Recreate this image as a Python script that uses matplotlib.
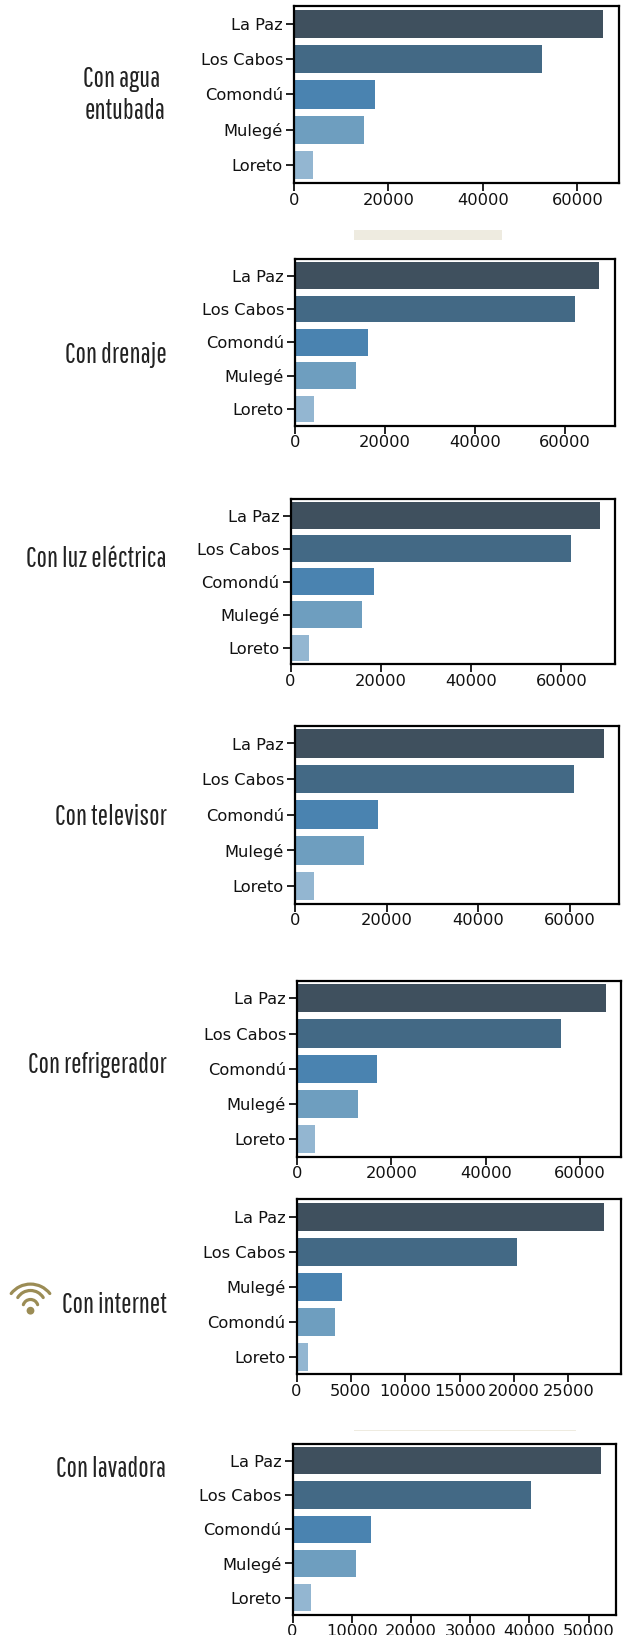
#Vivienda por municipio - barras horizontales por servicio

import matplotlib
matplotlib.use('Agg')
import matplotlib.pyplot as plt
from matplotlib.patches import Arc, Circle, Rectangle



municipios = ['La Paz', 'Los Cabos', 'Comondú', 'Mulegé', 'Loreto']
municipiosInternet = ['La Paz', 'Los Cabos', 'Mulegé', 'Comondú', 'Loreto']

conAgua = [65500, 52400, 17200, 14830, 4070]
conDrenaje = [67650, 62300, 16200, 13530, 4180]
conLuz = [68500, 62100, 18500, 15840, 4160]
conTelevisor = [67400, 60900, 18080, 15020, 4100]
conRefrigerador = [65400, 55900, 16950, 12880, 3810]
conInternet = [28270, 20300, 4190, 3570, 1070]
conLavadora = [52000, 40200, 13300, 10650, 3100]

titulos = ['Con agua', 'Con drenaje', 'Con luz eléctrica', 'Con televisor',
           'Con refrigerador', 'Con internet', 'Con lavadora']

barColors = ['#3f505e', '#436985', '#4a83b0', '#6e9ebf', '#93b6d1']
wifiColor = '#9b8c55'
narrowFont = ['Pathway Gothic One', 'Oswald', 'DejaVu Sans']

W, H = 627, 1635



#----------------------------------------------------------------------------------------------------
#   Layout (pixels): left, right, top, bottom, x limit, tick step, label x, label y                 -
#----------------------------------------------------------------------------------------------------



panels = [
    (294.0, 618.5, 6.0, 183.0, 68700, 20000, 160, 79, conAgua, municipios),
    (295.0, 614.5, 259.0, 425.7, 71000, 20000, 167, 355, conDrenaje, municipios),
    (290.5, 615.0, 499.0, 664.3, 71860, 20000, 166, 559, conLuz, municipios),
    (295.0, 619.0, 725.7, 903.7, 70740, 20000, 167, 817, conTelevisor, municipios),
    (297.0, 621.0, 980.7, 1156.7, 68640, 20000, 167, 1065, conRefrigerador, municipios),
    (296.5, 620.5, 1199.0, 1374.3, 29780, 5000, 167, 1305, conInternet, municipiosInternet),
    (292.5, 616.0, 1443.7, 1614.7, 54600, 10000, 166, 1469, conLavadora, municipios),
]

fig = plt.figure(figsize=(W / 100, H / 100), dpi=100, facecolor='white')

# whole figure overlay in pixel coordinates, for the labels and decorations
overlay = fig.add_axes([0, 0, 1, 1])
overlay.set_xlim(0, W)
overlay.set_ylim(H, 0)
overlay.axis('off')



#----------------------------------------------------------------------------------------------------
#   Bar panels                                                                                      -
#----------------------------------------------------------------------------------------------------



for index, (left, right, top, bottom, xMax, step, labelX, labelY, values, names) in enumerate(panels):

    ax = fig.add_axes([left / W, 1 - bottom / H, (right - left) / W, (bottom - top) / H])
    ax.barh(range(len(values)), values, height=0.8, color=barColors)
    ax.set_xlim(0, xMax)
    ax.set_ylim(4.5, -0.5)
    ax.set_yticks(range(len(names)))
    ax.set_yticklabels(names)
    ax.set_xticks(range(0, xMax, step))
    ax.tick_params(axis='both', labelsize=11.7, length=5.8, width=1.3, colors='#111111')
    ax.tick_params(axis='y', pad=2.2)
    ax.tick_params(axis='x', pad=1.2)
    for spine in ax.spines.values():
        spine.set_linewidth(1.6)
        spine.set_color('black')

    overlay.text(labelX, labelY, titulos[index], ha='right', va='center', fontsize=20,
                 color='#222222', family=narrowFont)

overlay.text(166, 111, 'entubada', ha='right', va='center', fontsize=20, color='#222222', family=narrowFont)



#----------------------------------------------------------------------------------------------------
#   Separators and wifi icon                                                                        -
#----------------------------------------------------------------------------------------------------



overlay.add_patch(Rectangle((354, 230), 148, 10, color='#eeebe0', lw=0))
overlay.add_patch(Rectangle((354, 1429.5), 222, 1, color='#eeebe0', lw=0))

overlay.add_patch(Circle((30.5, 1310.7), 3.9, color=wifiColor, lw=0))
for centerY, radius, halfAngle in [(1308.6, 24.5, 52), (1305.5, 15, 58), (1307, 7.5, 72)]:
    arc = Arc((30.5, centerY), 2 * radius, 2 * radius, theta1=270 - halfAngle, theta2=270 + halfAngle,
              color=wifiColor, lw=2.3)
    arc.set_capstyle('round')
    overlay.add_patch(arc)

fig.savefig('out.png', dpi=100)
